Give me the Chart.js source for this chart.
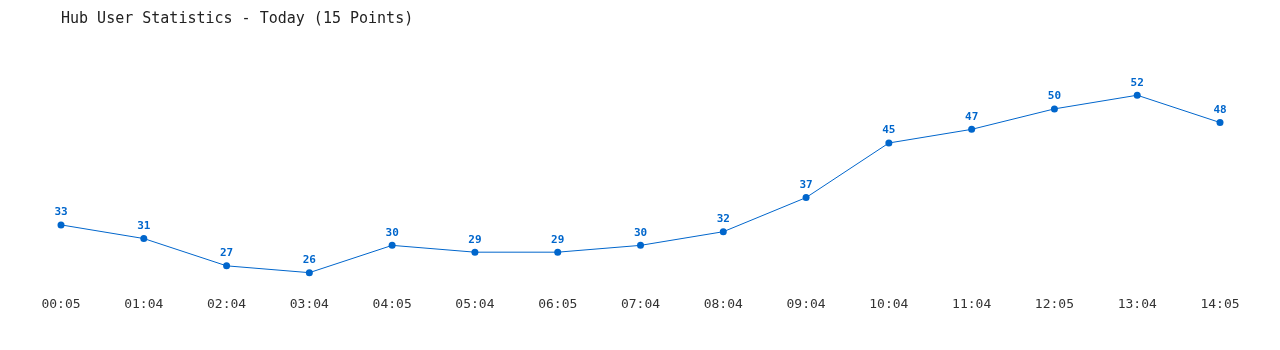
<!DOCTYPE html>
<html>
<head>
<meta charset="utf-8">
<script src="https://cdn.jsdelivr.net/npm/chart.js@4/dist/chart.umd.min.js"></script>
<style>
  html, body { margin: 0; padding: 0; background: #fff; }
  #wrap { width: 1280px; height: 350px; }
</style>
</head>
<body>
<div id="wrap"><canvas id="hubChart"></canvas></div>
<script>
const TIME_LABELS = ['00:05', '01:04', '02:04', '03:04', '04:05', '05:04', '06:05', '07:04',
  '08:04', '09:04', '10:04', '11:04', '12:05', '13:04', '14:05'];
const USER_COUNTS = [33, 31, 27, 26, 30, 29, 29, 30, 32, 37, 45, 47, 50, 52, 48];

const LINE_COLOR = '#0066CC';
const MONO = '"DejaVu Sans Mono", monospace';

// draws the value above each point (no datalabels plugin offline)
const pointValues = {
  id: 'pointValues',
  afterDatasetsDraw(chart) {
    const { ctx } = chart;
    const meta = chart.getDatasetMeta(0);
    ctx.save();
    ctx.font = `bold 11px ${MONO}`;
    ctx.fillStyle = LINE_COLOR;
    ctx.textAlign = 'center';
    ctx.textBaseline = 'bottom';
    meta.data.forEach((pt, i) => {
      ctx.fillText(String(USER_COUNTS[i]), pt.x, pt.y - 7);
    });
    ctx.restore();
  },
};

new Chart(document.getElementById('hubChart'), {
  type: 'line',
  data: {
    labels: TIME_LABELS,
    datasets: [{
      data: USER_COUNTS,
      borderColor: LINE_COLOR,
      backgroundColor: LINE_COLOR,
      borderWidth: 1,
      pointRadius: 3.5,
      pointBorderWidth: 0,
      tension: 0,
    }],
  },
  options: {
    responsive: true,
    maintainAspectRatio: false,
    animation: false,
    layout: { padding: { left: 61, right: 60, top: 0, bottom: 32 } },
    plugins: {
      legend: { display: false },
      tooltip: { enabled: false },
      title: {
        display: true,
        text: 'Hub User Statistics - Today (15 Points)',
        align: 'start',
        color: '#222',
        font: { family: MONO, size: 15, weight: 'normal' },
        padding: { top: 10, bottom: 14 },
      },
    },
    scales: {
      x: {
        offset: false,
        grid: { display: false, drawTicks: false },
        border: { display: false },
        ticks: {
          color: '#333',
          padding: 6,
          maxRotation: 0,
          autoSkip: false,
          font: { family: MONO, size: 13 },
        },
      },
      y: {
        display: false,
        min: 23.4,
        max: 59.8,
      },
    },
  },
  plugins: [pointValues],
});
</script>
</body>
</html>
